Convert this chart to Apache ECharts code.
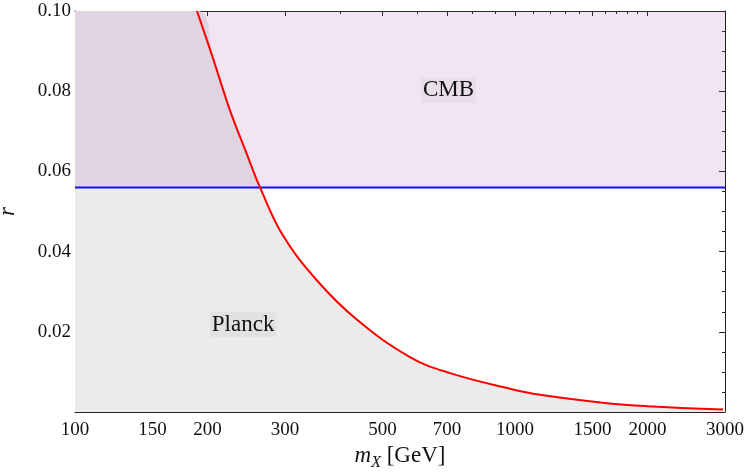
<!DOCTYPE html>
<html>
<head>
<meta charset="utf-8">
<script src="https://cdn.jsdelivr.net/npm/echarts@6/dist/echarts.min.js"></script>
<style>
	html, body { margin: 0; padding: 0; background: #fff; }
	#chart1 { width: 746px; height: 474px; }
</style>
</head>
<body>
<div id="chart1"></div>
<script>
// m_X [GeV] and r
var massGeV = [189.3, 205.9, 225, 246, 263.3, 297, 354.8, 437.5, 577, 711.7, 974, 1140, 1618, 1995, 2970];
var rValues = [0.1, 0.0882, 0.0752, 0.0642, 0.056, 0.0440, 0.0328, 0.0230, 0.0137, 0.0097, 0.0058, 0.0043, 0.0022, 0.00145, 0.0006];
var cmbLimit = 0.056;
var massRange = [100, 3000];
var rRange = [0, 0.1];
var majorTicks = [100, 150, 200, 300, 500, 700, 1000, 1500, 2000, 3000];
var minorTicks = [110, 120, 130, 140, 160, 170, 180, 190, 400, 600, 800, 900, 1100, 1200, 1300, 1400, 1600, 1700, 1800, 1900];
var regionLabels = [
	{ name: 'CMB', m: 706, r: 0.0802 },
	{ name: 'Planck', m: 241, r: 0.0218 }
];

var serif = '"Liberation Serif", "DejaVu Serif", serif';

$ready(function() {
	chart1();
});

function $ready(fn) {
	if (document.readyState !== 'loading') fn();
	else document.addEventListener('DOMContentLoaded', fn);
}

function lg(v) {
	return Math.log10(v);
}

function xAxisFor(position, ticks, len, labels, line) {
	return {
		type: 'value',
		position: position,
		min: lg(massRange[0]),
		max: lg(massRange[1]),
		splitLine: { show: false },
		axisLine: { show: line, onZero: false, lineStyle: { color: '#222', width: 1 } },
		axisTick: {
			show: true,
			inside: true,
			length: len,
			lineStyle: { color: '#222', width: 1 },
			customValues: ticks.map(lg)
		},
		axisLabel: {
			show: labels,
			margin: 9,
			color: '#111',
			fontSize: 19,
			fontFamily: serif,
			customValues: ticks.map(lg),
			formatter: function(v) {
				return String(Math.round(Math.pow(10, v)));
			}
		}
	};
}

function yAxisFor(position, labels) {
	return {
		type: 'value',
		position: position,
		min: rRange[0],
		max: rRange[1],
		interval: 0.02,
		splitLine: { show: false },
		axisLine: { show: true, lineStyle: { color: '#222', width: 1 } },
		axisTick: { show: true, inside: true, length: 6, lineStyle: { color: '#222' } },
		minorTick: { show: true, splitNumber: 4, length: 3, lineStyle: { color: '#222' } },
		axisLabel: {
			show: labels,
			margin: 4,
			color: '#111',
			fontSize: 19,
			fontFamily: serif,
			formatter: function(v) {
				return v === 0 ? '' : v.toFixed(2);
			}
		}
	};
}

function chart1() {
	let myChart = echarts.init(document.getElementById('chart1'));

	let curve = massGeV.map(function(m, i) {
		return [lg(m), rValues[i]];
	});
	// excluded region: flat at the top of the frame until the curve enters it
	let shaded = [[lg(massRange[0]), rRange[1]]].concat(curve);

	let xb = xAxisFor('bottom', majorTicks, 5, true, true);
	xb.name = '{i|m}{s|X}{n| [GeV]}';
	xb.nameLocation = 'middle';
	xb.nameGap = 30;
	xb.nameTextStyle = {
		color: '#111',
		fontFamily: serif,
		rich: {
			i: { fontStyle: 'italic', fontSize: 23, fontFamily: serif, color: '#111' },
			s: { fontStyle: 'italic', fontSize: 16, fontFamily: serif, color: '#111', padding: [12, 0, 0, 0] },
			n: { fontSize: 23, fontFamily: serif, color: '#111' }
		}
	};

	let yl = yAxisFor('left', true);
	yl.name = 'r';
	yl.nameLocation = 'middle';
	yl.nameGap = 56;
	yl.nameTextStyle = { color: '#111', fontSize: 23, fontStyle: 'italic', fontFamily: serif };

	let option = {
		animation: false,
		grid: { left: 75, right: 21, top: 11, bottom: 62, outerBoundsMode: 'none', containLabel: false },
		xAxis: [
			xb,
			xAxisFor('bottom', minorTicks, 3, false, false),
			xAxisFor('top', majorTicks, 5, false, true),
			xAxisFor('top', minorTicks, 3, false, false)
		],
		yAxis: [yl, yAxisFor('right', false)],
		series: [{
			name: 'Planck',
			type: 'line',
			z: 1,
			smooth: 0.4,
			showSymbol: false,
			lineStyle: { width: 0, opacity: 0 },
			areaStyle: { color: '#ebebeb', opacity: 1 },
			data: shaded
		}, {
			name: 'CMB',
			type: 'line',
			z: 2,
			showSymbol: false,
			lineStyle: { width: 0, opacity: 0 },
			areaStyle: { color: 'rgba(160, 80, 160, 0.15)', opacity: 1, origin: cmbLimit },
			data: [[lg(massRange[0]), rRange[1]], [lg(massRange[1]), rRange[1]]]
		}, {
			name: 'limit',
			type: 'line',
			z: 3,
			showSymbol: false,
			lineStyle: { color: '#1010ff', width: 2 },
			data: [[lg(massRange[0]), cmbLimit], [lg(massRange[1]), cmbLimit]]
		}, {
			name: 'curve',
			type: 'line',
			z: 4,
			smooth: 0.4,
			showSymbol: false,
			lineStyle: { color: '#ff0000', width: 2 },
			markPoint: {
				symbolSize: 0,
				silent: true,
				label: {
					show: true,
					position: 'inside',
					color: '#111',
					fontSize: 23,
					fontFamily: serif,
					backgroundColor: 'rgba(0, 0, 0, 0.035)',
					padding: [1, 2],
					formatter: '{b}'
				},
				data: regionLabels.map(function(d) {
					return { name: d.name, coord: [lg(d.m), d.r] };
				})
			},
			data: curve
		}]
	};

	myChart.setOption(option);
	window.addEventListener('resize', function() {
		myChart.resize();
	})
}
</script>
</body>
</html>
